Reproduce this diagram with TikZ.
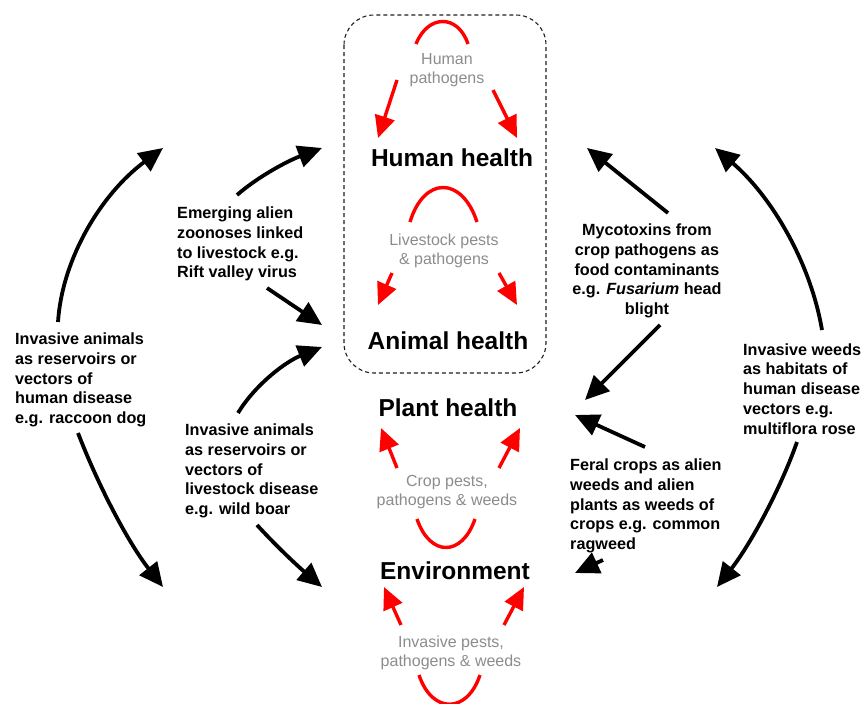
\documentclass[tikz,border=0pt]{standalone}
\usepackage{fontspec}
\setmainfont{Liberation Sans}
\usetikzlibrary{arrows.meta}
\definecolor{arrred}{RGB}{255,0,0}
\definecolor{lblgrey}{RGB}{140,140,140}
\definecolor{boxgrey}{RGB}{30,30,30}
\begin{document}
\begin{tikzpicture}[x=1pt,y=-1pt,
 big/.style={font=\fontsize{24.5}{28}\selectfont\bfseries, inner sep=0},
 lbl/.style={font=\fontsize{16.2}{19.8}\selectfont\bfseries, inner sep=0, align=left},
 grey/.style={font=\fontsize{16}{19}\selectfont, text=lblgrey, inner sep=0, align=center},
 redarc/.style={draw=arrred, line width=3.4pt},
 redarr/.style={draw=arrred, line width=3.4pt, -{Triangle[length=22pt,width=20pt]}},
 blk/.style={draw=black, line width=3.8pt, -{Triangle[length=24pt,width=22pt]}},
]
\useasboundingbox (0,0) rectangle (863,704);

% dashed box
\draw[boxgrey, line width=1.1pt, dash pattern=on 4pt off 3pt, rounded corners=30pt] (344,15) rectangle (546,373);

% main nodes
\node[big] (human) at (452,158) {Human health};
\node[big] (animal) at (448,341) {Animal health};
\node[big] (plant) at (448,408) {Plant health};
\node[big] (env) at (455,571) {Environment};

% grey labels
\node[grey] (hp) at (447,70.5) {Human\\pathogens};
\node[grey] (lp) at (444,250.5) {Livestock pests\\\& pathogens};
\node[grey] (cp) at (447,492.5) {Crop pests,\\pathogens \& weeds};
\node[grey] (ip) at (451,652.5) {Invasive pests,\\pathogens \& weeds};

% black labels
\node[lbl, anchor=west] (raccoon) at (15,380) {Invasive animals\\as reservoirs or\\vectors of\\human disease\\e.g. raccoon dog};
\node[lbl, anchor=west] (rift) at (177,244) {Emerging alien\\zoonoses linked\\to livestock e.g.\\Rift valley virus};
\node[lbl, anchor=west] (boar) at (185,471) {Invasive animals\\as reservoirs or\\vectors of\\livestock disease\\e.g. wild boar};
\node[lbl, align=center] (myco) at (647,271) {Mycotoxins from\\crop pathogens as\\food contaminants\\e.g. \textit{Fusarium} head\\blight};
\node[lbl, anchor=west] (weeds) at (743,389) {Invasive weeds\\as habitats of\\human disease\\vectors e.g.\\multiflora rose};
\node[lbl, anchor=west] (feral) at (570,506) {Feral crops as alien\\weeds and alien\\plants as weeds of\\crops e.g. common\\ragweed};

% red arcs and arrows
\coordinate (a1s) at (416,44); \coordinate (a1e) at (468,44);
\draw[redarc] (a1s) .. controls (428,14) and (458,14) .. (a1e);
\coordinate (r1s) at (397,80); \coordinate (r1t) at (378,138);
\coordinate (r2s) at (493,90); \coordinate (r2t) at (517,138);
\draw[redarr] (r1s) -- (r1t);
\draw[redarr] (r2s) -- (r2t);

\coordinate (a2s) at (410,222); \coordinate (a2e) at (477,222);
\draw[redarc] (a2s) .. controls (424,176) and (462,176) .. (a2e);
\coordinate (r3s) at (392,273); \coordinate (r3t) at (378,305);
\coordinate (r4s) at (499,273); \coordinate (r4t) at (517,305);
\draw[redarr] (r3s) -- (r3t);
\draw[redarr] (r4s) -- (r4t);

\coordinate (r5s) at (397,468); \coordinate (r5t) at (381,428);
\coordinate (r6s) at (499,468); \coordinate (r6t) at (520,428);
\draw[redarr] (r5s) -- (r5t);
\draw[redarr] (r6s) -- (r6t);
\coordinate (a3s) at (417,519); \coordinate (a3e) at (475,519);
\draw[redarc] (a3s) .. controls (430,557) and (462,557) .. (a3e);

\coordinate (r7s) at (401,625); \coordinate (r7t) at (384,587);
\coordinate (r8s) at (504,625); \coordinate (r8t) at (524,587);
\draw[redarr] (r7s) -- (r7t);
\draw[redarr] (r8s) -- (r8t);
\coordinate (a4s) at (419,675); \coordinate (a4e) at (480,675);
\draw[redarc] (a4s) .. controls (432,714) and (467,714) .. (a4e);

% black arrows
\coordinate (b1s) at (58,322); \coordinate (b1t) at (163,148);
\draw[blk] (b1s) .. controls (62,260) and (100,195) .. (b1t);
\coordinate (b2s) at (78,433); \coordinate (b2t) at (163,587);
\draw[blk] (b2s) .. controls (100,490) and (130,545) .. (b2t);
\coordinate (b3s) at (237,195); \coordinate (b3t) at (322,148);
\draw[blk] (b3s) .. controls (260,175) and (290,160) .. (b3t);
\coordinate (b4s) at (267,288); \coordinate (b4t) at (322,325);
\draw[blk] (b4s) -- (b4t);
\coordinate (b5s) at (238,413); \coordinate (b5t) at (322,347);
\draw[blk] (b5s) .. controls (255,385) and (285,362) .. (b5t);
\coordinate (b6s) at (257,525); \coordinate (b6t) at (322,587);
\draw[blk] (b6s) .. controls (280,550) and (300,568) .. (b6t);
\coordinate (b7s) at (668,213); \coordinate (b7t) at (587,148);
\draw[blk] (b7s) -- (b7t);
\coordinate (b8s) at (660,325); \coordinate (b8t) at (585,400);
\draw[blk] (b8s) -- (b8t);
\coordinate (b9s) at (645,447); \coordinate (b9t) at (575,415);
\draw[blk] (b9s) -- (b9t);
\coordinate (b10s) at (603,560); \coordinate (b10t) at (575,573);
\draw[blk] (b10s) -- (b10t);
\coordinate (b11s) at (822,330); \coordinate (b11t) at (715,148);
\draw[blk] (b11s) .. controls (810,260) and (770,195) .. (b11t);
\coordinate (b12s) at (797,442); \coordinate (b12t) at (717,587);
\draw[blk] (b12s) .. controls (780,490) and (750,545) .. (b12t);
\end{tikzpicture}
\end{document}
